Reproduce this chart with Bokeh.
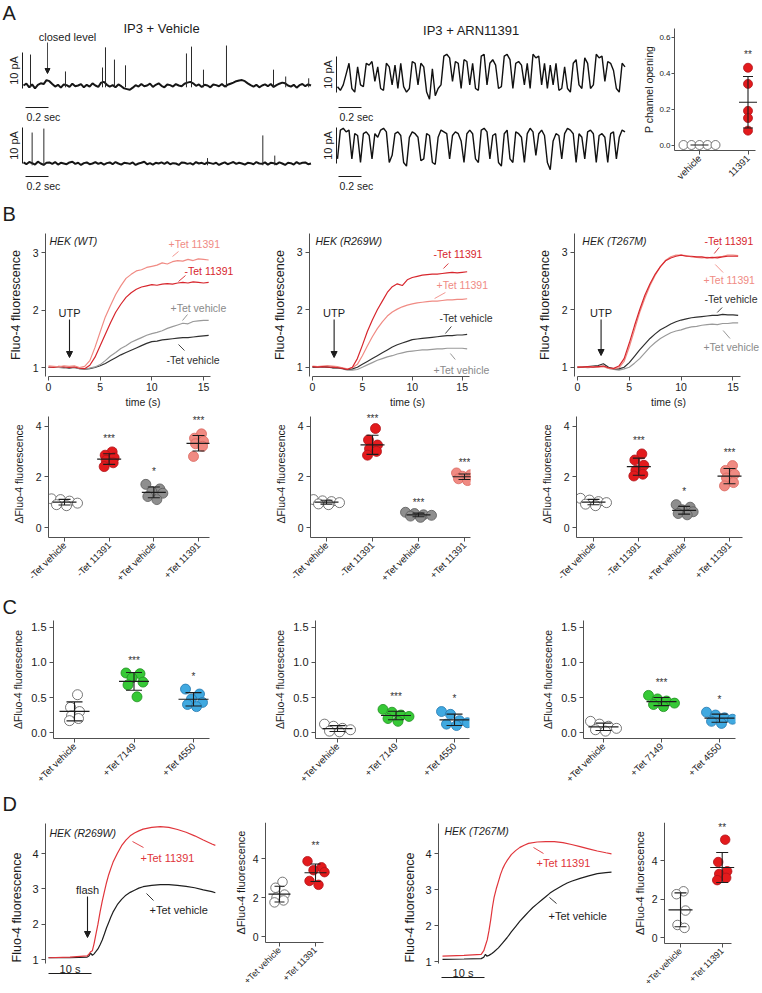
import math
import numpy as np
from bokeh.plotting import figure
from bokeh.layouts import column, row
from bokeh.models import Range1d, Arrow, NormalHead, Grid, PrintfTickFormatter
from bokeh.core.properties import value
from bokeh.embed import file_html
from bokeh.resources import INLINE

FONT = "Liberation Sans"
AXC = "#505050"
TXT = "#1c1c1c"

# ============================ DATA ============================
# ---- A: single-channel currents (pA), one sample every 0.025 s
a_dt = 0.025
a_veh_top = [0, 0.5, -0.5, 0.3, -0.8, 0.2, 0.6, 0.4, 1.5, 1.2,
             0.4, -0.3, 0.2, -0.6, 0.3, 0.1, -0.4, 0.5, -0.2, 0,
             0.4, -0.5, 0.2, -0.3, 0.6, 0, -0.4, 0.8, 1.0, 0.2,
             -0.3, 0.1, -0.5, 0.3, -0.2, -0.8, -1.0, -1.2, -0.6, 0.1,
             -0.3, 0.4, -0.2, 0, 0.5, -0.4, 0.2, 0.6, -0.1, -0.5,
             0.3, 0.1, -0.3, 0.4, 0, -0.2, 0.5, 0.8, 1.0, 0.6,
             -0.1, 0.3, -0.4, 0.2, 0, -0.5, 0.3, 0.1, -0.2, 0.4,
             -0.3, 0.2, 0.5, 0.8, 1.2, 1.4, 1.5, 1.2, 0.6, 0.1,
             -0.3, 0.2, -0.5, 0, 0.3, -0.2, 0.4, -0.4, 0.1, 0.5,
             0.8, 0.6, 0, -0.3, 0.2, -0.6, 0.1, 0.4, -0.2, 0.3, 0]
a_veh_bottom = [0.3, -0.2, 0.4, 0.1, -0.3, 0.5, 0, -0.4, 0.2, 0.3,
                -0.1, 0.4, -0.3, 0.2, 0, -0.2, 0.3, 0.5, -0.1, 0.2,
                -0.4, 0.1, 0.3, -0.2, 0, 0.4, -0.1, 0.2, -0.3, 0.1,
                0.3, -0.2, 0.4, 0, -0.3, 0.2, 0.1, -0.1, 0.3, -0.4,
                0, 0.2, 0.5, -0.2, 0.1, -0.3, 0.2, 0, 0.3, -0.1,
                0.4, -0.2, 0.1, 0, -0.4, 0.3, 0.2, -0.1, 0.1, -0.3,
                0.4, 0, 0.2, -0.2, 0.3, 0.1, -0.1, 0.2, -0.4, 0,
                0.3, -0.2, 0.1, 0.4, -0.1, 0.2, 0, -0.3, 0.2, 0.1,
                -0.2, 0.4, 0, -0.1, 0.3, -0.3, 0.2, 0.1, -0.2, 0.3,
                0, -0.4, 0.2, 0.1, -0.3, 0.4, -0.1, 0.2, 0.3, -0.2, 0]
a_veh_top_spike_t = [0.061, 0.365, 0.687, 0.713, 0.791, 0.887, 1.417, 1.461, 1.565, 1.765, 2.174, 2.28, 2.48]
a_veh_top_spike_pa = [8.6, 3.9, 5.0, 10.6, 7.2, 5.6, 8.9, 10.8, 4.4, 11.1, 4.4, 2.5, 2.0]
a_veh_bottom_spike_t = [0.075, 0.177, 1.60, 2.081, 2.185]
a_veh_bottom_spike_pa = [8.6, 9.7, 1.5, 7.8, 2.2]
a_arn_top = [0.5, -0.5, 1, 4, 7, 0, -1, 6, 1, 0.5,
             7, 6.5, 7.5, 2, 6, 0, -0.5, 7, 6, 1,
             6.5, 0, 7, 0.5, -1, 0, 7.5, 7, 1, 7,
             6, -1, -3, 5.5, -2, 0, 1, 9, 9.5, 8.5,
             2, 7.5, 7, 0, 8, 7.5, 1, 7, 0, -0.5,
             9, 9.5, 1, 7, 8, 6.5, 0, 0.5, 9, 9.5,
             8, 0, 7, 7.5, 6.5, 1, 7, 0, 9.5, 8.5,
             9, 1, 7, 0, 6.5, 1, 7, -0.5, 0, 6,
             0, -1, 7, 8, 1, 0, 8.5, 7, 0, 1,
             9.5, 8.5, 9, 2, 7.5, 7, 5, 0, -1, 7, 6]
a_arn_bottom = [1, 9, 9.5, 8.5, 9, 1, 8, 7.5, 0, 8,
                8.5, 7.5, 1, 8, 7, 9, 9.5, 8.5, 0, 2,
                8, 8.5, 7.5, 0, -1, 7, 8.5, 8, 7, 0.5,
                1, 8, 7.5, 0, -0.5, 7, 9, 8.5, 8, 1,
                7.5, 8.5, 8, 6, 0, 8, 9, 8, 1, 0,
                9, 9.5, 8.5, 1, 7.5, 8, 0, -1, 8, 9,
                1, 0, 8.5, 8, 7, 0, 8, 9.5, 8.5, 2,
                8, 9, 7.5, 0, -2, 6, 8, 7.5, 1, 8,
                9.5, 9, 8, 0, 8, 7, 1, 8.5, 9, 8,
                0, 7.5, 8, 7, 0, 8, 8.5, 1, 7, 9, 8.5]
a_p_cats = ["vehicle", "11391"]
a_p_vehicle = [0.0, 0.0, 0.0, 0.0, 0.0]
a_p_11391 = [0.43, 0.34, 0.19, 0.15, 0.08]

# ---- B: Fluo-4 traces (sampled every 0.5 s)
b_time = [0.0, 0.5, 1.0, 1.5, 2.0, 2.5, 3.0, 3.5, 4.0, 4.5, 5.0, 5.5, 6.0, 6.5, 7.0, 7.5,
          8.0, 8.5, 9.0, 9.5, 10.0, 10.5, 11.0, 11.5, 12.0, 12.5, 13.0, 13.5, 14.0, 14.5, 15.0, 15.5]
b_wt_ptet_11391 = [1.03, 1.02, 1.01, 1.03, 1.02, 1.03, 1.00, 1.02, 1.12, 1.35, 1.62, 1.88, 2.08, 2.27, 2.42, 2.55,
                   2.62, 2.68, 2.70, 2.74, 2.76, 2.78, 2.82, 2.80, 2.84, 2.86, 2.85, 2.88, 2.86, 2.89, 2.88, 2.87]
b_wt_mtet_11391 = [1.01, 1.00, 1.02, 1.01, 1.00, 1.01, 0.99, 0.98, 1.04, 1.18, 1.38, 1.58, 1.78, 1.96, 2.10, 2.22,
                   2.30, 2.36, 2.40, 2.42, 2.44, 2.43, 2.45, 2.46, 2.45, 2.47, 2.48, 2.47, 2.49, 2.48, 2.47, 2.48]
b_wt_ptet_veh = [1.00, 1.01, 1.00, 0.99, 1.01, 1.00, 0.98, 0.97, 0.99, 1.01, 1.05, 1.12, 1.20, 1.26, 1.33, 1.38,
                 1.44, 1.48, 1.52, 1.56, 1.59, 1.61, 1.64, 1.68, 1.71, 1.74, 1.77, 1.76, 1.80, 1.81, 1.82, 1.82]
b_wt_mtet_veh = [1.00, 1.00, 1.01, 1.00, 0.99, 1.00, 0.98, 0.97, 0.98, 1.00, 1.03, 1.07, 1.12, 1.17, 1.22, 1.26,
                 1.30, 1.34, 1.38, 1.42, 1.45, 1.46, 1.48, 1.49, 1.50, 1.51, 1.52, 1.52, 1.53, 1.54, 1.55, 1.56]
b_r269w_mtet_11391 = [1.01, 1.00, 1.01, 1.00, 1.00, 0.99, 0.98, 0.96, 1.00, 1.15, 1.38, 1.62, 1.82, 2.00, 2.15, 2.30,
                      2.40, 2.45, 2.42, 2.52, 2.56, 2.58, 2.60, 2.61, 2.62, 2.62, 2.63, 2.64, 2.65, 2.64, 2.65, 2.66]
b_r269w_ptet_11391 = [1.02, 1.01, 1.02, 1.03, 1.02, 1.01, 0.99, 0.97, 0.99, 1.05, 1.20, 1.37, 1.53, 1.67, 1.79, 1.89,
                      1.96, 2.01, 2.05, 2.08, 2.10, 2.12, 2.13, 2.14, 2.15, 2.15, 2.16, 2.17, 2.17, 2.18, 2.18, 2.19]
b_r269w_mtet_veh = [1.00, 1.00, 1.01, 1.00, 0.99, 0.99, 0.98, 0.96, 0.97, 1.00, 1.05, 1.10, 1.15, 1.20, 1.25, 1.30,
                    1.35, 1.39, 1.42, 1.45, 1.48, 1.49, 1.50, 1.51, 1.52, 1.53, 1.54, 1.55, 1.55, 1.56, 1.56, 1.57]
b_r269w_ptet_veh = [1.00, 1.01, 1.00, 1.00, 0.99, 0.99, 0.97, 0.95, 0.95, 0.96, 1.00, 1.04, 1.08, 1.12, 1.15, 1.18,
                    1.20, 1.23, 1.25, 1.27, 1.28, 1.29, 1.30, 1.30, 1.31, 1.32, 1.32, 1.33, 1.33, 1.33, 1.33, 1.32]
b_t267m_mtet_11391 = [1.00, 1.00, 1.01, 1.00, 1.01, 1.02, 0.99, 0.98, 1.02, 1.15, 1.42, 1.72, 2.00, 2.25, 2.45, 2.62,
                      2.75, 2.85, 2.90, 2.93, 2.95, 2.93, 2.93, 2.92, 2.92, 2.90, 2.91, 2.90, 2.92, 2.93, 2.93, 2.93]
b_t267m_ptet_11391 = [1.01, 1.00, 1.00, 1.01, 1.00, 1.01, 0.98, 0.97, 0.99, 1.10, 1.35, 1.65, 1.95, 2.20, 2.42, 2.60,
                      2.75, 2.86, 2.92, 2.95, 2.95, 2.94, 2.92, 2.91, 2.90, 2.91, 2.90, 2.92, 2.93, 2.95, 2.95, 2.94]
b_t267m_mtet_veh = [1.00, 1.00, 1.01, 1.02, 1.03, 1.06, 1.00, 0.97, 0.97, 1.00, 1.08, 1.19, 1.30, 1.40, 1.50, 1.58,
                    1.65, 1.70, 1.75, 1.79, 1.82, 1.84, 1.86, 1.87, 1.88, 1.89, 1.90, 1.90, 1.92, 1.91, 1.91, 1.90]
b_t267m_ptet_veh = [0.99, 1.00, 0.99, 1.00, 1.01, 1.02, 0.98, 0.96, 0.95, 0.97, 1.00, 1.07, 1.15, 1.25, 1.35, 1.43,
                    1.50, 1.55, 1.60, 1.63, 1.65, 1.68, 1.70, 1.71, 1.73, 1.74, 1.75, 1.74, 1.76, 1.76, 1.77, 1.77]

# ---- B: ΔFluo-4 per cell
bs_cats = ["-Tet vehicle", "-Tet 11391", "+Tet vehicle", "+Tet 11391"]
bs_wt_mtet_veh = [1.13, 1.10, 1.04, 0.96, 0.90, 0.86]
bs_wt_mtet_11391 = [2.98, 2.85, 2.75, 2.65, 2.55, 2.40]
bs_wt_ptet_veh = [1.70, 1.52, 1.42, 1.35, 1.22, 1.10]
bs_wt_ptet_11391 = [3.69, 3.52, 3.40, 3.30, 3.20, 2.80]
bs_r269w_mtet_veh = [1.10, 1.05, 1.02, 0.98, 0.93, 0.90]
bs_r269w_mtet_11391 = [3.90, 3.45, 3.25, 3.10, 3.00, 2.85]
bs_r269w_ptet_veh = [0.60, 0.55, 0.50, 0.48, 0.45, 0.40]
bs_r269w_ptet_11391 = [2.15, 2.08, 2.02, 1.98, 1.92, 1.85]
bs_t267m_mtet_veh = [1.15, 1.08, 1.02, 0.98, 0.92, 0.86]
bs_t267m_mtet_11391 = [2.90, 2.66, 2.45, 2.25, 2.10, 2.03]
bs_t267m_ptet_veh = [0.90, 0.80, 0.70, 0.62, 0.55, 0.50]
bs_t267m_ptet_11391 = [2.44, 2.25, 2.10, 1.95, 1.77, 1.64]
bs_stars = [None, "***", "*", "***"]
bs_stars_r269w = [None, "***", "***", "***"]

# ---- C
c_cats = ["+Tet vehicle", "+Tet 7149", "+Tet 4550"]
c_p1_vehicle = [0.54, 0.36, 0.30, 0.24, 0.20, 0.17]
c_p1_7149 = [0.85, 0.84, 0.78, 0.72, 0.68, 0.51]
c_p1_4550 = [0.62, 0.55, 0.48, 0.43, 0.40, 0.37]
c_p2_vehicle = [0.12, 0.09, 0.06, 0.04, 0.02, 0.01]
c_p2_7149 = [0.33, 0.29, 0.25, 0.23, 0.20, 0.16]
c_p2_4550 = [0.30, 0.26, 0.17, 0.14, 0.12, 0.10]
c_p3_vehicle = [0.16, 0.12, 0.09, 0.06, 0.04, 0.02]
c_p3_7149 = [0.53, 0.48, 0.45, 0.42, 0.40, 0.37]
c_p3_4550 = [0.29, 0.25, 0.21, 0.19, 0.16, 0.13]
c_stars = [None, "***", "*"]

# ---- D: flash-photolysis traces and summary
d_r269w_t = [0, 5, 9, 9.4, 9.8, 10.2, 10.6, 11, 11.5, 12, 12.5, 13, 13.5, 14, 14.5, 15,
             16, 17, 18, 19, 20, 21, 22, 24, 26, 28, 30, 32, 34, 36, 38, 38.8]
d_r269w_11391_trace = [1.05, 1.07, 1.10, 1.15, 1.22, 1.25, 1.45, 1.70, 2.00, 2.35, 2.65, 2.92, 3.18, 3.40, 3.58, 3.75,
                       4.00, 4.22, 4.38, 4.50, 4.58, 4.64, 4.69, 4.74, 4.76, 4.74, 4.68, 4.60, 4.50, 4.38, 4.27, 4.23]
d_r269w_veh_trace = [1.05, 1.05, 1.07, 1.10, 1.18, 1.12, 1.16, 1.22, 1.30, 1.42, 1.55, 1.72, 1.90, 2.05, 2.20, 2.34,
                     2.55, 2.70, 2.82, 2.90, 2.96, 3.02, 3.06, 3.10, 3.12, 3.12, 3.10, 3.07, 3.03, 2.97, 2.92, 2.89]
d_t267m_t_11391 = [0, 5, 9, 9.6, 10, 10.4, 10.8, 11.2, 11.6, 12, 12.5, 13, 13.5, 14, 14.5, 15,
                   16, 17, 18, 19, 20, 22, 24, 26, 28, 30, 32, 34, 36, 38, 39.3]
d_t267m_11391_trace = [1.15, 1.17, 1.20, 1.30, 1.45, 1.60, 1.85, 2.15, 2.50, 2.78, 3.02, 3.22, 3.42, 3.58, 3.70, 3.80,
                       3.97, 4.08, 4.17, 4.23, 4.28, 4.32, 4.33, 4.33, 4.30, 4.25, 4.19, 4.13, 4.07, 4.02, 3.99]
d_t267m_t_veh = [0, 5, 9, 9.6, 10, 10.3, 10.8, 11.5, 12, 13, 14, 15, 16, 17, 18, 19,
                 20, 21, 22, 23, 24, 25, 26, 27, 28, 29, 30, 32, 34, 36, 38, 39.3]
d_t267m_veh_trace = [1.06, 1.07, 1.08, 1.12, 1.20, 1.15, 1.17, 1.22, 1.27, 1.38, 1.52, 1.66, 1.82, 1.97, 2.12, 2.25,
                     2.38, 2.50, 2.60, 2.70, 2.80, 2.90, 2.98, 3.05, 3.12, 3.18, 3.23, 3.31, 3.38, 3.44, 3.47, 3.48]
d_cats = ["+Tet vehicle", "+Tet 11391"]
d_r269w_vehicle = [2.80, 2.50, 2.15, 2.00, 1.85, 1.75]
d_r269w_11391 = [3.86, 3.55, 3.40, 3.30, 2.85, 2.65]
d_t267m_vehicle = [2.40, 2.25, 1.40, 0.65, 0.50]
d_t267m_11391 = [5.08, 3.92, 3.44, 3.30, 3.10, 2.98]
d_stars = [None, "**"]

# ============================ STYLE ============================
C_PA = "#f08b84"   # +Tet 11391
C_MA = "#d7262d"   # -Tet 11391
C_PV = "#9a9a9a"   # +Tet vehicle
C_MV = "#303030"   # -Tet vehicle
WHITE = ("white", "#555555")
RED = ("#e31a1c", "#b0141a")
SALMON = ("#f08a82", "#d9675f")
GRAY = ("#8e8e8e", "#5a5a5a")
GREEN = ("#36c936", "#1f8f1f")
BLUE = ("#40a9e0", "#2479b0")
JW = [-13, -4, 5, 13, -8, 2]
JN = [3, -4, 5, -3, 4, -5]
JM = [-8, 6, -2, 9, -6, 3]


def lin(v0, p0, v1, p1):
    k = (v1 - v0) / (p1 - p0)
    return lambda px: v0 + (px - p0) * k


def mkfig(X0, Y0, w, h, frame, xm, ym, xaxis=False, yaxis=False):
    fl, fr, ft, fb = frame
    p = figure(width=w, height=h,
               x_range=Range1d(xm(fl), xm(fr)), y_range=Range1d(ym(fb), ym(ft)),
               output_backend="svg", toolbar_location=None,
               x_axis_location="below" if xaxis else None,
               y_axis_location="left" if yaxis else None,
               min_border_left=fl - X0, min_border_right=X0 + w - fr,
               min_border_top=ft - Y0, min_border_bottom=Y0 + h - fb)
    p.outline_line_color = None
    p.background_fill_color = "white"
    p.border_fill_color = "white"
    for g in p.select(type=Grid):
        g.visible = False
    for ax in p.axis:
        ax.axis_line_color = AXC
        ax.axis_line_width = 1
        ax.major_tick_line_color = AXC
        ax.major_tick_in = 0
        ax.major_tick_out = 4
        ax.minor_tick_line_color = None
        ax.major_label_text_font = FONT
        ax.major_label_text_font_size = "10.5px"
        ax.major_label_text_color = TXT
        ax.major_label_standoff = 3
        ax.axis_label_text_font = FONT
        ax.axis_label_text_font_style = "normal"
        ax.axis_label_text_color = TXT
    return p


def txt(p, x, y, s, size="10.5px", color=TXT, align="left", baseline="middle", angle=0.0, style="normal"):
    p.text(x=[x], y=[y], text=[s], text_font=value(FONT), text_font_size=size,
           text_color=color, text_align=align, text_baseline=baseline, angle=angle,
           text_font_style=style)


def seg(p, x0, y0, x1, y1, color=TXT, width=1.0):
    p.segment(x0=[x0], y0=[y0], x1=[x1], y1=[y1], line_color=color, line_width=width)


def arrow(p, x0, y0, x1, y1, size=6, width=1.1):
    p.add_layout(Arrow(end=NormalHead(size=size, line_color=TXT, fill_color=TXT, line_width=1),
                       x_start=x0, y_start=y0, x_end=x1, y_end=y1,
                       line_color=TXT, line_width=width))


def dot_panel(X0, Y0, w, h, frame, xm, ym, cats, groups, yticks, ylabel,
              ylab_fs="10.5px", cat_fs="9.5px", tick_fs="10.5px", size=10,
              mean_hw=12, cap_hw=6, ylab_stand=8, fmt=None, fixed_x_px=None, xbound_px=None,
              ytop_px=None, yaxis_px=None, star_px=13):
    fl, fr, ft, fb = frame
    p = mkfig(X0, Y0, w, h, frame, xm, ym, xaxis=True, yaxis=True)
    n = len(cats)
    p.xaxis.ticker = list(range(1, n + 1))
    p.xaxis.major_label_overrides = {i + 1: c for i, c in enumerate(cats)}
    p.xaxis.major_label_orientation = math.pi / 4
    p.xaxis.major_label_text_font_size = cat_fs
    p.xaxis.major_label_standoff = 2
    p.yaxis.ticker = yticks
    p.yaxis.major_label_text_font_size = tick_fs
    if fmt:
        p.yaxis.formatter = PrintfTickFormatter(format=fmt)
    p.yaxis.axis_label = ylabel
    p.yaxis.axis_label_text_font_size = ylab_fs
    p.yaxis.axis_label_standoff = ylab_stand
    if fixed_x_px is not None:
        p.xaxis.fixed_location = ym(fixed_x_px)
        p.yaxis.bounds = (ym(fixed_x_px), ym(ytop_px if ytop_px is not None else ft))
    xb0 = xm(fl)
    if yaxis_px is not None:
        p.yaxis.fixed_location = xm(yaxis_px)
        xb0 = xm(yaxis_px)
    if xbound_px is not None:
        p.xaxis.bounds = (xb0, xm(xbound_px))
    ux = xm(1) - xm(0)
    uy = ym(0) - ym(1)
    for gi, (vals, col, jit, star) in enumerate(groups):
        xc = gi + 1
        xs = [xc + j * ux for j in jit[:len(vals)]]
        p.scatter(xs, vals, size=size, fill_color=col[0], line_color=col[1], line_width=0.8)
        m = float(np.mean(vals))
        sd = float(np.std(vals, ddof=1))
        p.segment(x0=[xc - mean_hw * ux], y0=[m], x1=[xc + mean_hw * ux], y1=[m],
                  line_color=TXT, line_width=1.2)
        if sd > 0:
            p.segment(x0=[xc, xc - cap_hw * ux, xc - cap_hw * ux], y0=[m - sd, m - sd, m + sd],
                      x1=[xc, xc + cap_hw * ux, xc + cap_hw * ux], y1=[m + sd, m - sd, m + sd],
                      line_color=TXT, line_width=1.1)
        if star:
            txt(p, xc, max(vals) + star_px * uy, star, size="10px", align="center", color="#333333")
    return p


# ============================ ROW A (y 0..226) ============================
xA = lin(0, 23, 1, 138)
yA = lin(0, 85, 10, 49)
pAL = mkfig(0, 0, 318, 226, (0, 318, 0, 226), xA, yA)
tA = np.arange(len(a_veh_top)) * a_dt
offA2 = yA(163)
pAL.line(tA, a_veh_top, line_color="#151515", line_width=2.0)
pAL.segment(x0=a_veh_top_spike_t, y0=[-0.5] * len(a_veh_top_spike_t), x1=a_veh_top_spike_t,
            y1=a_veh_top_spike_pa, line_color="#2a2a2a", line_width=1.0)
pAL.line(tA, np.array(a_veh_bottom) + offA2, line_color="#151515", line_width=2.0)
pAL.segment(x0=a_veh_bottom_spike_t, y0=[offA2 - 0.5] * len(a_veh_bottom_spike_t), x1=a_veh_bottom_spike_t,
            y1=np.array(a_veh_bottom_spike_pa) + offA2, line_color="#2a2a2a", line_width=1.0)
for yb in (88, 163):
    seg(pAL, xA(22), yA(yb), xA(22), yA(yb) + 10, width=1.0)
    txt(pAL, xA(13), yA(yb) + 5, "10 pA", size="11px", align="center", angle=math.pi / 2)
for yb in (107, 176):
    seg(pAL, xA(25), yA(yb), xA(25) + 0.2, yA(yb), width=1.0)
    txt(pAL, xA(26), yA(yb + 3), "0.2 sec", size="10.5px", baseline="top")
txt(pAL, xA(161), yA(28), "IP3 + Vehicle", size="13px", align="center")
txt(pAL, xA(67), yA(36), "closed level", size="11px", align="center")
arrow(pAL, xA(47), yA(42), xA(47), yA(73), size=5, width=0.8)
txt(pAL, xA(2), yA(1), "A", size="20px", baseline="top")
txt(pAL, xA(2), yA(202), "B", size="20px", baseline="top")

xM = lin(0, 337, 1, 452)
yM = lin(0, 88, 10, 52)
pAM = mkfig(318, 0, 312, 226, (318, 630, 0, 226), xM, yM)
tM = np.arange(len(a_arn_top)) * a_dt
offM2 = yM(162)
pAM.line(tM, a_arn_top, line_color="#111111", line_width=1.4)
pAM.line(tM, np.array(a_arn_bottom) + offM2, line_color="#111111", line_width=1.4)
for yb in (92, 163):
    seg(pAM, xM(336), yM(yb), xM(336), yM(yb) + 10, width=1.0)
    txt(pAM, xM(327), yM(yb) + 5, "10 pA", size="11px", align="center", angle=math.pi / 2)
for yb in (107, 176):
    seg(pAM, xM(338), yM(yb), xM(338) + 0.2, yM(yb), width=1.0)
    txt(pAM, xM(339), yM(yb + 3), "0.2 sec", size="10.5px", baseline="top")
txt(pAM, xM(471), yM(30), "IP3 + ARN11391", size="13px", align="center")

xP = lin(1, 699, 2, 747.5)
yP = lin(0, 144.5, 0.6, 36.7)
pAR = dot_panel(630, 0, 132, 226, (630, 762, 0, 226), xP, yP, a_p_cats,
                [(a_p_vehicle, WHITE, [-16, -8, 0, 8, 16], None),
                 (a_p_11391, RED, [0, 0, 0, 0, 0], "**")],
                [0, 0.2, 0.4, 0.6], "P channel opening", ylab_fs="10.5px", cat_fs="9.5px",
                tick_fs="8px", size=9, mean_hw=9, cap_hw=5, ylab_stand=1, fmt="%.1f",
                fixed_x_px=150, xbound_px=755, ytop_px=28, yaxis_px=674)
pAR.yaxis.major_tick_out = 3
pAR.yaxis.major_label_standoff = 1

# ============================ ROW B traces (y 226..410) ============================


def b_trace(X0, w, frame_lr, x_ref, y_ref, series, labels, utp_x, utp_end, hek, hek_x):
    fl, fr = frame_lr
    xm = lin(0, x_ref[0], 15, x_ref[1])
    ym = lin(1, y_ref[0], 3, y_ref[1])
    p = mkfig(X0, 226, w, 184, (fl, fr, 233, 376), xm, ym, xaxis=True, yaxis=True)
    p.xaxis.ticker = [0, 5, 10, 15]
    p.xaxis.bounds = (0, 15.7)
    p.xaxis.major_label_standoff = 2
    p.yaxis.ticker = [1, 2, 3]
    p.xaxis.axis_label = "time (s)"
    p.xaxis.axis_label_text_font_size = "10.5px"
    p.xaxis.axis_label_standoff = 2
    p.yaxis.axis_label = "Fluo-4 fluorescence"
    p.yaxis.axis_label_text_font_size = "12.5px"
    p.yaxis.axis_label_standoff = 7
    for vals, col in series:
        p.line(b_time, vals, line_color=col, line_width=1.2)
    for s, px, py, col, ld in labels:
        txt(p, xm(px), ym(py), s, size="10.5px", color=col)
        seg(p, xm(ld[0]), ym(ld[1]), xm(ld[2]), ym(ld[3]), color=col, width=0.9)
    txt(p, xm(utp_x), ym(312), "UTP", size="11px", align="center")
    arrow(p, xm(utp_x), ym(319), xm(utp_x), ym(utp_end))
    txt(p, xm(hek_x), ym(240), hek, size="10.5px", style="italic")
    return p


pB1 = b_trace(0, 269, (45, 240), (48, 203), (367, 252),
              [(b_wt_mtet_veh, C_MV), (b_wt_ptet_veh, C_PV), (b_wt_mtet_11391, C_MA), (b_wt_ptet_11391, C_PA)],
              [("+Tet 11391", 168, 243, C_PA, (172, 256, 178, 251)),
               ("-Tet 11391", 184, 270, C_MA, (178, 281, 185, 275)),
               ("+Tet vehicle", 170, 307, "#8a8a8a", (182, 320, 187, 314)),
               ("-Tet vehicle", 166, 359, C_MV, (178, 344, 184, 350))],
              69, 357, "HEK (WT)", 49)
pB2 = b_trace(269, 265, (306, 505), (309, 461), (366.7, 251.7),
              [(b_r269w_ptet_veh, C_PV), (b_r269w_mtet_veh, C_MV), (b_r269w_ptet_11391, C_PA), (b_r269w_mtet_11391, C_MA)],
              [("-Tet 11391", 432, 253, C_MA, (442, 268, 447, 263)),
               ("+Tet 11391", 435, 284, C_PA, (433, 298, 444, 292)),
               ("-Tet vehicle", 438, 317, C_MV, (444, 333, 450, 326)),
               ("+Tet vehicle", 432, 369, "#8a8a8a", (449, 353, 454, 359))],
              331, 357, "HEK (R269W)", 312)
pB3 = b_trace(534, 228, (571, 762), (574, 732), (366.7, 251.7),
              [(b_t267m_ptet_veh, C_PV), (b_t267m_mtet_veh, C_MV), (b_t267m_ptet_11391, C_PA), (b_t267m_mtet_11391, C_MA)],
              [("-Tet 11391", 703, 240, C_MA, (713, 253, 718, 247)),
               ("+Tet 11391", 702, 279, C_PA, (714, 264, 722, 272)),
               ("-Tet vehicle", 703, 298, C_MV, (716, 312, 721, 307)),
               ("+Tet vehicle", 702, 346, "#8a8a8a", (722, 330, 729, 338))],
              598, 355, "HEK (T267M)", 579)

# ============================ ROW B dots (y 410..591) ============================
yBs = lin(0, 527, 4, 425.5)
DF = "ΔFluo-4 fluorescence"
pB1s = dot_panel(0, 410, 270, 181, (48, 209, 410, 537), lin(1, 64, 4, 198), yBs, bs_cats,
                 [(bs_wt_mtet_veh, WHITE, JW, bs_stars[0]), (bs_wt_mtet_11391, RED, JN, bs_stars[1]),
                  (bs_wt_ptet_veh, GRAY, JM, bs_stars[2]), (bs_wt_ptet_11391, SALMON, JN, bs_stars[3])],
                 [0, 2, 4], DF)
pB2s = dot_panel(270, 410, 266, 181, (310, 470, 410, 537), lin(1, 326, 2, 372), yBs, bs_cats,
                 [(bs_r269w_mtet_veh, WHITE, JW, bs_stars_r269w[0]), (bs_r269w_mtet_11391, RED, JN, bs_stars_r269w[1]),
                  (bs_r269w_ptet_veh, GRAY, JW, bs_stars_r269w[2]), (bs_r269w_ptet_11391, SALMON, JM, bs_stars_r269w[3])],
                 [0, 2, 4], DF, star_px=10)
pB3s = dot_panel(536, 410, 226, 181, (576, 742, 410, 537), lin(1, 593, 4, 729), yBs, bs_cats,
                 [(bs_t267m_mtet_veh, WHITE, JW, bs_stars[0]), (bs_t267m_mtet_11391, RED, JN, bs_stars[1]),
                  (bs_t267m_ptet_veh, GRAY, JM, bs_stars[2]), (bs_t267m_ptet_11391, SALMON, JN, bs_stars[3])],
                 [0, 2, 4], DF)
for pb in (pB1s, pB2s, pB3s):
    pb.yaxis.bounds = (yBs(537), yBs(416))

# ============================ HEADERS ============================


def header(Y0, h, letter, top_y):
    p = mkfig(0, Y0, 762, h, (0, 762, Y0, Y0 + h), lambda v: v, lambda v: -v)
    txt(p, 2, -top_y, letter, size="20px", baseline="top")
    return p


hC = header(591, 29, "C", 595)
hD = header(790, 26, "D", 792)

# ============================ ROW C (y 620..790) ============================
yC = lin(0, 733, 1.5, 627)
cfr = dict(yticks=[0, 0.5, 1.0, 1.5], ylabel=DF, fmt="%.1f", tick_fs="11px",
           size=10, mean_hw=15, cap_hw=8, ylab_stand=4)
pC1 = dot_panel(0, 620, 270, 170, (53, 209, 620, 739), lin(1, 74, 3, 193), yC, c_cats,
                [(c_p1_vehicle, WHITE, JN, c_stars[0]), (c_p1_7149, GREEN, JM, c_stars[1]),
                 (c_p1_4550, BLUE, JM, c_stars[2])], **cfr)
pC2 = dot_panel(270, 620, 268, 170, (315, 469, 620, 739), lin(1, 337, 3, 454), yC, c_cats,
                [(c_p2_vehicle, WHITE, JW, c_stars[0]), (c_p2_7149, GREEN, JW, c_stars[1]),
                 (c_p2_4550, BLUE, JW, c_stars[2])], **cfr)
pC3 = dot_panel(538, 620, 224, 170, (583, 735, 620, 739), lin(1, 603, 3, 719), yC, c_cats,
                [(c_p3_vehicle, WHITE, JW, c_stars[0]), (c_p3_7149, GREEN, JW, c_stars[1]),
                 (c_p3_4550, BLUE, JW, c_stars[2])], **cfr)

# ============================ ROW D (y 816..992) ============================
D_RED = "#e0353b"
D_BLK = "#1e1e1e"


def d_trace(X0, w, frame_lr, xm, ym, series, labels, hek, hek_xy, bar_y, bar_txt_y, flash=None):
    fl, fr = frame_lr
    p = mkfig(X0, 816, w, 176, (fl, fr, 822, 992), xm, ym, xaxis=False, yaxis=True)
    p.yaxis.ticker = [1, 2, 3, 4]
    p.yaxis.bounds = (ym(963), ym(823))
    p.yaxis.axis_label = "Fluo-4 fluorescence"
    p.yaxis.axis_label_text_font_size = "12.5px"
    p.yaxis.axis_label_standoff = 5
    p.yaxis.major_label_text_font_size = "11px"
    for t, vals, col in series:
        p.line(t, vals, line_color=col, line_width=1.2)
    for s, px, py, col, ld in labels:
        txt(p, xm(px), ym(py), s, size="11px", color=col)
        seg(p, xm(ld[0]), ym(ld[1]), xm(ld[2]), ym(ld[3]), color=col, width=0.9)
    txt(p, xm(hek_xy[0]), ym(hek_xy[1]), hek, size="10.5px", style="italic")
    x0 = xm(fl + 3)
    seg(p, x0, ym(bar_y), x0 + 10, ym(bar_y), width=1.0)
    txt(p, x0 + 5, ym(bar_txt_y), "10 s", size="11px", align="center", baseline="alphabetic")
    if flash:
        txt(p, xm(flash[0]), ym(889), "flash", size="11px", align="center")
        arrow(p, xm(flash[0]), ym(896), xm(flash[0]), ym(937))
    return p


xD1 = lin(0, 48, 10, 91)
yD1 = lin(1, 959, 4, 853)
pD1 = d_trace(0, 230, (45, 225), xD1, yD1,
              [(d_r269w_t, d_r269w_veh_trace, D_BLK), (d_r269w_t, d_r269w_11391_trace, D_RED)],
              [("+Tet 11391", 140, 857, D_RED, (132, 841, 143, 847)),
               ("+Tet vehicle", 149, 909, D_BLK, (146, 893, 153, 900))],
              "HEK (R269W)", (49, 832), 973, 968, flash=(87,))
xD2 = lin(0, 442, 10, 485)
yD2 = lin(1, 961, 4, 853)
pD2 = d_trace(400, 220, (438, 615), xD2, yD2,
              [(d_t267m_t_veh, d_t267m_veh_trace, D_BLK), (d_t267m_t_11391, d_t267m_11391_trace, D_RED)],
              [("+Tet 11391", 536, 862, D_RED, (533, 847, 543, 853)),
               ("+Tet vehicle", 548, 915, D_BLK, (549, 897, 556, 903))],
              "HEK (T267M)", (444, 830), 977, 972)

pD1s = dot_panel(230, 816, 170, 176, (230, 400, 822, 992), lin(1, 279, 2, 315), lin(0, 936, 4, 858), d_cats,
                 [(d_r269w_vehicle, WHITE, JN, d_stars[0]), (d_r269w_11391, RED, JM, d_stars[1])],
                 [0, 2, 4], DF, ylab_fs="11px", cat_fs="9px", size=9.5, mean_hw=11, cap_hw=5, ylab_stand=3,
                 fixed_x_px=942, xbound_px=323, yaxis_px=265, star_px=16)
pD2s = dot_panel(620, 816, 142, 176, (620, 762, 822, 992), lin(1, 680, 2, 721.7), lin(0, 937, 4, 860), d_cats,
                 [(d_t267m_vehicle, WHITE, JN, d_stars[0]), (d_t267m_11391, RED, JN, d_stars[1])],
                 [0, 2, 4], DF, ylab_fs="11px", cat_fs="9px", size=9.5, mean_hw=12, cap_hw=6, ylab_stand=3,
                 fixed_x_px=943, xbound_px=731, yaxis_px=664, star_px=12)

layout = column(row(pAL, pAM, pAR),
                row(pB1, pB2, pB3),
                row(pB1s, pB2s, pB3s),
                hC,
                row(pC1, pC2, pC3),
                hD,
                row(pD1, pD1s, pD2, pD2s))

open("out.html", "w").write(file_html(layout, INLINE, title="figure"))
